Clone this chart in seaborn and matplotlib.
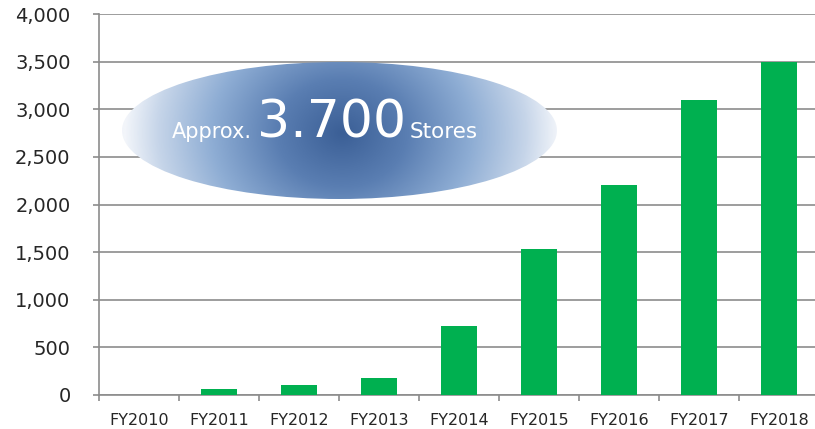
import numpy as np
import pandas as pd
import matplotlib
matplotlib.use("Agg")
import matplotlib.pyplot as plt
import seaborn as sns
from matplotlib.patches import Ellipse
from matplotlib.colors import LinearSegmentedColormap

# Données : nombre de magasins par exercice
years = ["FY2010", "FY2011", "FY2012", "FY2013", "FY2014",
         "FY2015", "FY2016", "FY2017", "FY2018"]
stores = [0, 60, 100, 180, 720, 1530, 2200, 3100, 3500]
y_ticks = [0, 500, 1000, 1500, 2000, 2500, 3000, 3500, 4000]

df = pd.DataFrame({"year": years, "stores": stores})

sns.set_style("white")
plt.rcParams['font.family'] = ['DejaVu Sans']

W, H = 815, 429
fig = plt.figure(figsize=(W / 100, H / 100), dpi=100)
ax = fig.add_axes([99 / W, (H - 395) / H, 720 / W, (395 - 14) / H])

grey = "#8c8c8c"
sns.barplot(data=df, x="year", y="stores", color="#00B050", width=0.45,
            saturation=1, linewidth=0, ax=ax, zorder=3)

ax.set_ylim(0, 4000)
ax.set_xlim(-0.5, len(years) - 0.5)
ax.set_yticks(y_ticks)
ax.set_yticklabels([f"{v:,}" for v in y_ticks], fontsize=14)
ax.set_xlabel("")
ax.set_ylabel("")
ax.grid(axis="y", color=grey, linewidth=1.2, zorder=0)
ax.set_axisbelow(True)

# ticks de catégorie entre les barres
ax.set_xticks(np.arange(len(years)))
ax.set_xticklabels(years, fontsize=11.5)
ax.set_xticks(np.arange(-0.5, len(years)), minor=True)
ax.tick_params(axis="x", which="major", length=0, pad=13)
ax.tick_params(axis="x", which="minor", length=4.5, width=1.2, color=grey, direction="out")
ax.tick_params(axis="y", length=4.5, width=1.2, color=grey, direction="out", pad=16)
ax.tick_params(bottom=True, left=True, which="both")

for s in ["top", "right"]:
    ax.spines[s].set_visible(False)
for s in ["left", "bottom"]:
    ax.spines[s].set_color(grey)
    ax.spines[s].set_linewidth(1.2)

# Ellipse avec dégradé radial
ov = fig.add_axes([0, 0, 1, 1])
ov.set_xlim(0, W)
ov.set_ylim(H, 0)
ov.axis("off")
ov.patch.set_alpha(0)

cx, cy, ew, eh = 339.5, 130.5, 435, 137
gx = np.linspace(cx - ew / 2, cx + ew / 2, 400)
gy = np.linspace(cy - eh / 2, cy + eh / 2, 160)
X, Y = np.meshgrid(gx, gy)
r = np.sqrt((X - 342) ** 2 + (1.2 * (Y - 133)) ** 2) / (ew / 2)
cmap = LinearSegmentedColormap.from_list(
    "grad", [(0, "#3b5f96"), (0.3, "#5a7eb2"), (0.6, "#8eadd4"), (0.85, "#c6d5e9"), (1, "#f2f5fa")])
ell = Ellipse((cx, cy), ew, eh, transform=ov.transData, facecolor="none", edgecolor="none")
ov.add_patch(ell)
im = ov.imshow(np.clip(r, 0, 1), cmap=cmap, vmin=0, vmax=1, aspect="auto",
               extent=(gx[0], gx[-1], gy[-1], gy[0]), origin="upper", interpolation="bilinear")
im.set_clip_path(ell)

ov.text(172, 138, "Approx.", color="white", fontsize=15, ha="left", va="baseline")
ov.text(257, 138, "3.700", color="white", fontsize=37.5, ha="left", va="baseline")
ov.text(410, 138, "Stores", color="white", fontsize=15.5, ha="left", va="baseline")

fig.savefig("out.png", dpi=100)
